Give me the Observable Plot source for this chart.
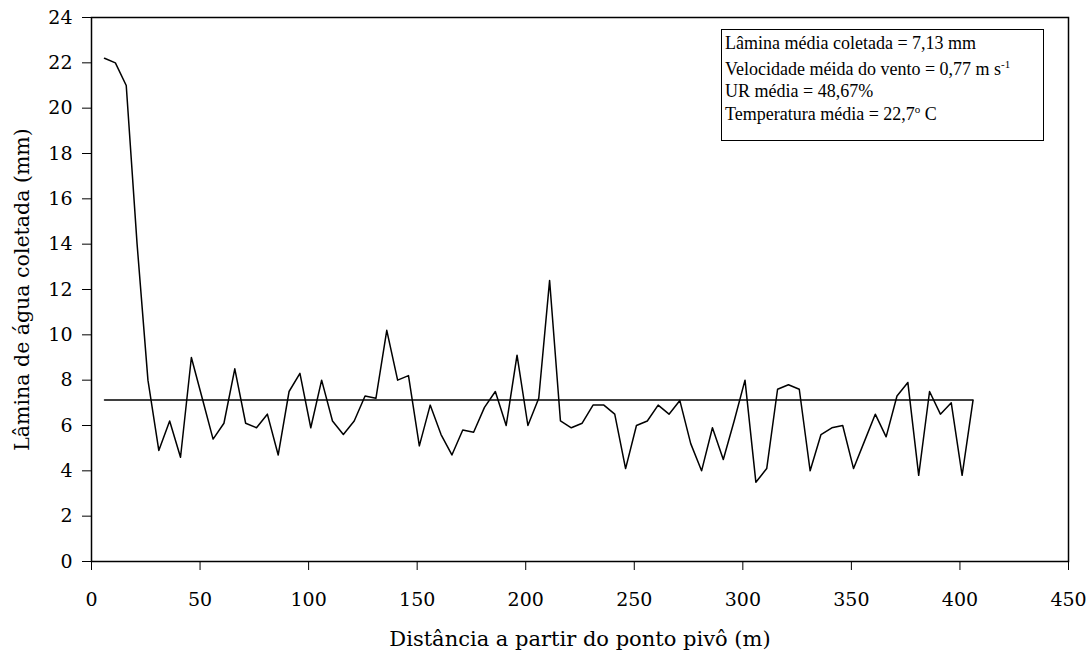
<!DOCTYPE html>
<html>
<head>
<meta charset="utf-8">
<script src="https://cdn.jsdelivr.net/npm/d3@7"></script>
<script src="https://cdn.jsdelivr.net/npm/@observablehq/plot@0.6"></script>
<style>
  body { margin: 0; background: #fff; }
  #wrap { position: relative; width: 1089px; height: 657px; font-family: "Liberation Serif", "Times New Roman", serif; }
  #legend { position: absolute; left: 721px; top: 29px; width: 323px; height: 112px; border: 1px solid #000; box-sizing: border-box; font-size: 18px; color: #000; background: #fff; }
  #legend div { position: absolute; left: 3px; white-space: nowrap; line-height: 18px; }
  .sup { position: relative; top: -7px; font-size: 11px; }
</style>
</head>
<body>
<div id="wrap">
  <div id="chart"></div>
  <div id="legend"></div>
</div>
<script>
// Distância a partir do ponto pivô (m)
const distancia = [6, 11, 16, 21, 26, 31, 36, 41, 46, 51, 56, 61, 66, 71, 76, 81, 86, 91, 96, 101,
  106, 111, 116, 121, 126, 131, 136, 141, 146, 151, 156, 161, 166, 171, 176, 181, 186, 191, 196, 201,
  206, 211, 216, 221, 226, 231, 236, 241, 246, 251, 256, 261, 266, 271, 276, 281, 286, 291, 296, 301,
  306, 311, 316, 321, 326, 331, 336, 341, 346, 351, 356, 361, 366, 371, 376, 381, 386, 391, 396, 401, 406];
// Lâmina de água coletada (mm)
const lamina = [22.2, 22.0, 21.0, 14.0, 8.0, 4.9, 6.2, 4.6, 9.0, 7.2, 5.4, 6.1, 8.5, 6.1, 5.9, 6.5, 4.7, 7.5, 8.3, 5.9,
  8.0, 6.2, 5.6, 6.2, 7.3, 7.2, 10.2, 8.0, 8.2, 5.1, 6.9, 5.6, 4.7, 5.8, 5.7, 6.8, 7.5, 6.0, 9.1, 6.0,
  7.2, 12.4, 6.2, 5.9, 6.1, 6.9, 6.9, 6.5, 4.1, 6.0, 6.2, 6.9, 6.5, 7.1, 5.2, 4.0, 5.9, 4.5, 6.2, 8.0,
  3.5, 4.1, 7.6, 7.8, 7.6, 4.0, 5.6, 5.9, 6.0, 4.1, 5.3, 6.5, 5.5, 7.3, 7.9, 3.8, 7.5, 6.5, 7.0, 3.8, 7.1];
const laminaMedia = 7.13;
const xTicks = [0, 50, 100, 150, 200, 250, 300, 350, 400, 450];
const yTicks = [0, 2, 4, 6, 8, 10, 12, 14, 16, 18, 20, 22, 24];
const xTitle = "Distância a partir do ponto pivô (m)";
const yTitle = "Lâmina de água coletada (mm)";
const legendLines = [
  "Lâmina média coletada = 7,13 mm",
  "Velocidade méida do vento = 0,77 m s<span class=\"sup\">-1</span>",
  "UR média = 48,67%",
  "Temperatura média = 22,7<span class=\"sup\">o</span> C"
];

const svgFont = "DejaVu Serif";
const rows = distancia.map((d, i) => ({d, v: lamina[i]}));
const meanRows = [
  {d: distancia[0], v: laminaMedia},
  {d: distancia[distancia.length - 1], v: laminaMedia}
];

const chart = Plot.plot({
  width: 1089,
  height: 657,
  marginLeft: 91,
  marginRight: 21,
  marginTop: 17,
  marginBottom: 96,
  style: {color: "#000", background: "#fff", overflow: "visible"},
  x: {domain: [0, 450]},
  y: {domain: [0, 24]},
  marks: [
    Plot.frame({stroke: "#000", strokeWidth: 1.5}),
    Plot.axisX({ticks: xTicks, tickSize: 9, tickPadding: 22, label: null, fontSize: 19, fontFamily: svgFont, tickFormat: d => String(d)}),
    Plot.axisY({ticks: yTicks, tickSize: 9, tickPadding: 10, label: null, fontSize: 19, fontFamily: svgFont, tickFormat: d => String(d)}),
    Plot.line(meanRows, {x: "d", y: "v", stroke: "#000", strokeWidth: 1.5}),
    Plot.line(rows, {x: "d", y: "v", stroke: "#000", strokeWidth: 1.5}),
    Plot.text([xTitle], {text: d => d, frameAnchor: "bottom", dy: 78, fontSize: 21, fontFamily: svgFont, textAnchor: "middle", lineAnchor: "middle", fill: "#000"}),
    Plot.text([yTitle], {text: d => d, frameAnchor: "left", dx: -69, rotate: -90, fontSize: 20.5, fontFamily: svgFont, textAnchor: "middle", lineAnchor: "middle", fill: "#000"})
  ]
});
document.getElementById("chart").appendChild(chart);

const tops = [4, 30, 52, 75];
const legend = document.getElementById("legend");
legendLines.forEach((t, i) => {
  const div = document.createElement("div");
  div.style.top = tops[i] + "px";
  div.innerHTML = t;
  legend.appendChild(div);
});
</script>
</body>
</html>
